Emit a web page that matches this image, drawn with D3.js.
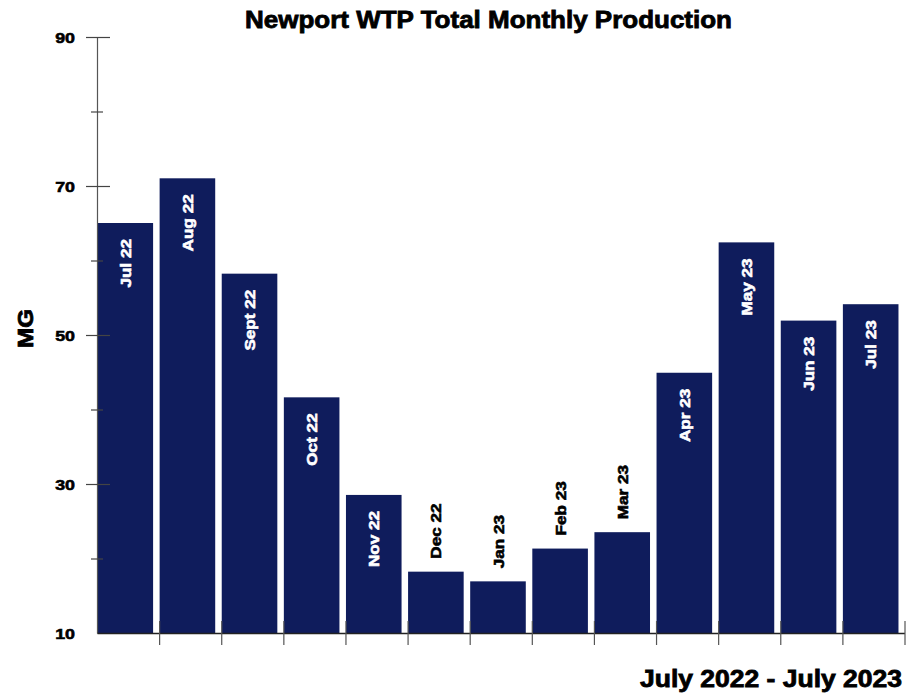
<!DOCTYPE html>
<html><head><meta charset="utf-8">
<script src="https://cdn.jsdelivr.net/npm/d3@7"></script>
<style>body{margin:0;background:#fff}svg{display:block}text{font-family:"Liberation Sans",Arial,sans-serif;font-weight:bold}</style>
</head><body>
<svg id="c" width="923" height="694"></svg>
<script>
const months = ["Jul 22","Aug 22","Sept 22","Oct 22","Nov 22","Dec 22","Jan 23","Feb 23","Mar 23","Apr 23","May 23","Jun 23","Jul 23"];
const production = [65.1,71.1,58.3,41.7,28.6,18.3,17.0,21.4,23.6,45.0,62.5,52.0,54.2];
const labelInside = [true,true,true,true,true,false,false,false,false,true,true,true,true];
const majorTicks = [10,30,50,70,90];
const minorTicks = [20,40,60,80];
const titleText = "Newport WTP Total Monthly Production";
const xTitle = "July 2022 - July 2023";
const yTitle = "MG";

const svg = d3.select("#c");
const barColor = "#0f1c5c";
const x = d3.scaleBand().domain(months).range([97.5, 905]).padding(0);
const y = d3.scaleLinear().domain([10, 90]).range([633.5, 37.5]);
const bw = x.bandwidth() * 0.895;
const stretch = 1.12;

// bars
svg.append("g").selectAll("rect").data(months).join("rect")
  .attr("x", d => x(d)).attr("width", bw)
  .attr("y", (d,i) => y(production[i]))
  .attr("height", (d,i) => y(10) - y(production[i]))
  .attr("fill", barColor);

// bar labels
svg.append("g").selectAll("text").data(months).join("text")
  .attr("transform", (d,i) => {
    const cx = x(d) + bw/2;
    const top = y(production[i]);
    const yy = labelInside[i] ? top + 16 : top - 13;
    return `translate(${cx},${yy}) rotate(-90) scale(${stretch},1)`;
  })
  .attr("text-anchor", (d,i) => labelInside[i] ? "end" : "start")
  .attr("dy", "0.36em")
  .attr("font-size", 15.3)
  .attr("fill", (d,i) => labelInside[i] ? "#fff" : "#000")
  .attr("stroke", (d,i) => labelInside[i] ? "#fff" : "#000")
  .attr("stroke-width", 0.6)
  .text(d => d);

// y axis
const yAxis = svg.append("g");
yAxis.append("line").attr("x1", 97.5).attr("x2", 97.5).attr("y1", y(90)).attr("y2", y(10))
  .attr("stroke", "#555").attr("stroke-width", 1.2);
yAxis.selectAll("line.maj").data(majorTicks.filter(v => v !== 10)).join("line").attr("class","maj")
  .attr("x1", 86).attr("x2", 110).attr("y1", d => y(d)).attr("y2", d => y(d))
  .attr("stroke", "#444").attr("stroke-width", 1.2);
yAxis.selectAll("line.min").data(minorTicks).join("line").attr("class","min")
  .attr("x1", 91).attr("x2", 103).attr("y1", d => y(d)).attr("y2", d => y(d))
  .attr("stroke", "#444").attr("stroke-width", 1.2);
yAxis.selectAll("text").data(majorTicks).join("text")
  .attr("transform", d => `translate(75,${y(d) + 5.5}) scale(1.15,1)`)
  .attr("text-anchor", "end").attr("font-size", 15.5).attr("fill", "#000")
  .attr("stroke", "#000").attr("stroke-width", 0.6)
  .text(d => d);

// x axis
const xAxis = svg.append("g");
xAxis.append("line").attr("x1", 97.5).attr("x2", 905).attr("y1", y(10)).attr("y2", y(10))
  .attr("stroke", "#222").attr("stroke-width", 1.5);
xAxis.selectAll("line.t").data(months).join("line").attr("class","t")
  .attr("x1", d => x(d) + x.bandwidth()).attr("x2", d => x(d) + x.bandwidth())
  .attr("y1", 621).attr("y2", 645)
  .attr("stroke", "#555").attr("stroke-width", 1.2);

// titles
svg.append("text").attr("x", 488.5).attr("y", 28.3).attr("text-anchor", "middle")
  .attr("font-size", 23).attr("textLength", 487).attr("lengthAdjust", "spacingAndGlyphs")
  .attr("fill", "#000").attr("stroke", "#000").attr("stroke-width", 0.8).text(titleText);
svg.append("text").attr("x", 640).attr("y", 687)
  .attr("font-size", 23.5).attr("textLength", 262).attr("lengthAdjust", "spacingAndGlyphs")
  .attr("fill", "#000").attr("stroke", "#000").attr("stroke-width", 0.8).text(xTitle);
svg.append("text").attr("transform", `translate(33,328.5) rotate(-90) scale(1.1,1)`)
  .attr("text-anchor", "middle").attr("font-size", 22).attr("fill", "#000")
  .attr("stroke", "#000").attr("stroke-width", 0.8).text(yTitle);
</script>
</body></html>
